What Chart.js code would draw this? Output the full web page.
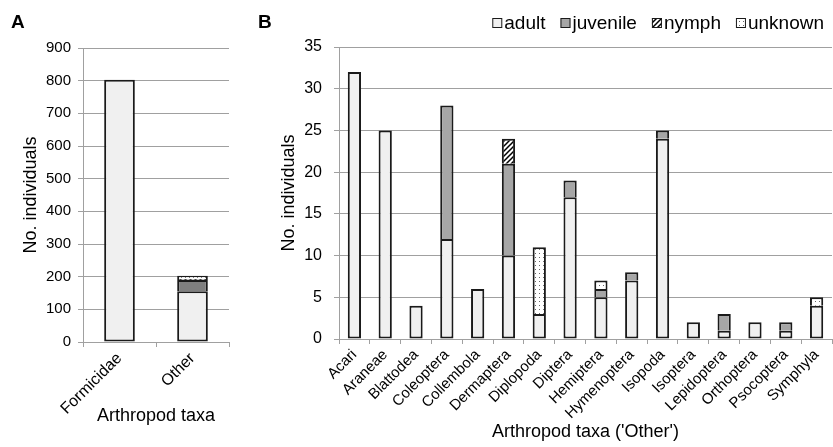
<!DOCTYPE html>
<html>
<head>
<meta charset="utf-8">
<script src="https://cdn.jsdelivr.net/npm/chart.js@4"></script>
<style>
  body { margin: 0; background: #fff; }
  #wrap { position: relative; width: 833px; height: 447px; font-family: "Liberation Sans", Arial, sans-serif; }
  canvas { position: absolute; top: 0; }
  .tag { position: absolute; font-weight: bold; font-size: 19px; color: #000; line-height: 1; }
</style>
</head>
<body>
<div id="wrap">
  <canvas id="chartA" width="250" height="447" style="left:0;width:250px;height:447px"></canvas>
  <canvas id="chartB" width="583" height="447" style="left:250px;width:583px;height:447px"></canvas>
  <div class="tag" style="left:11px;top:12px">A</div>
  <div class="tag" style="left:258px;top:12px">B</div>
</div>
<script>
// Panel A: all arthropods
var taxaA = ['Formicidae', 'Other'];
var adultA = [803, 155];
var juvenileA = [null, 35];
var nymphA = [null, 3];
var unknownA = [null, 10];

// Panel B: breakdown of 'Other'
var taxaB = ['Acari', 'Araneae', 'Blattodea', 'Coleoptera', 'Collembola', 'Dermaptera', 'Diplopoda', 'Diptera',
  'Hemiptera', 'Hymenoptera', 'Isopoda', 'Isoptera', 'Lepidoptera', 'Orthoptera', 'Psocoptera', 'Symphyla'];
var adultB = [32, 25, 4, 12, 6, 10, 3, 17, 5, 7, 24, 2, 1, 2, 1, 4];
var juvenileB = [null, null, null, 16, null, 11, null, 2, 1, 1, 1, null, 2, null, 1, null];
var nymphB = [null, null, null, null, null, 3, null, null, null, null, null, null, null, null, null, null];
var unknownB = [null, null, null, null, null, null, 8, null, 1, null, null, null, null, null, null, 1];

var FONT = '"Liberation Sans", Arial, sans-serif';

var hatchPattern = function() {
  var c = document.createElement('canvas');
  c.width = 5; c.height = 5;
  var g = c.getContext('2d');
  g.fillStyle = '#fff';
  g.fillRect(0, 0, 5, 5);
  g.strokeStyle = '#000';
  g.lineWidth = 1.5;
  g.beginPath();
  g.moveTo(-1, 6); g.lineTo(6, -1);
  g.moveTo(-1, 1); g.lineTo(1, -1);
  g.moveTo(4, 6); g.lineTo(6, 4);
  g.stroke();
  return g.createPattern(c, 'repeat');
}

var dotPattern = function() {
  var c = document.createElement('canvas');
  c.width = 4; c.height = 4;
  var g = c.getContext('2d');
  g.fillStyle = '#fff';
  g.fillRect(0, 0, 4, 4);
  g.fillStyle = '#666';
  g.fillRect(1, 1, 1, 1);
  return g.createPattern(c, 'repeat');
}

// the bottom segment keeps its full outline, upper segments skip their base edge
var makeSet = function(label, data, fill, barPct, first) {
  return {
    label: label,
    data: data,
    backgroundColor: fill,
    borderColor: '#1a1a1a',
    borderWidth: 2,
    borderSkipped: first ? false : 'start',
    barPercentage: barPct,
    categoryPercentage: 1
  };
}

// small box-and-text legend, right aligned, drawn above panel B
var boxLegend = {
  id: 'boxLegend',
  afterDraw: function(chart) {
    var ctx = chart.ctx;
    var sets = chart.data.datasets;
    ctx.save();
    ctx.font = '19px ' + FONT;
    ctx.textBaseline = 'middle';
    var box = 10, gapText = 2, gapItem = 15, y = 23;
    var widths = sets.map(function(ds) { return box + gapText + ctx.measureText(ds.label).width; });
    var total = widths.reduce(function(a, b) { return a + b; }, 0) + gapItem * (sets.length - 1);
    var x = chart.width - 9 - total;
    sets.forEach(function(ds, i) {
      ctx.fillStyle = ds.backgroundColor;
      ctx.fillRect(x, y - box / 2, box, box);
      ctx.strokeStyle = '#1a1a1a';
      ctx.lineWidth = 1;
      ctx.strokeRect(x + 0.5, y - box / 2 + 0.5, box - 1, box - 1);
      ctx.fillStyle = '#000';
      ctx.fillText(ds.label, x + box + gapText, y + 1);
      x += widths[i] + gapItem;
    });
    ctx.restore();
  }
};

var createPanelA = function(ctx) {
  return new Chart(ctx, {
    type: 'bar',
    data: {
      labels: taxaA,
      datasets: [
        makeSet('adult', adultA, '#f0f0f0', 0.42, true),
        makeSet('juvenile', juvenileA, '#7f7f7f', 0.42),
        makeSet('nymph', nymphA, hatchPattern(), 0.42),
        makeSet('unknown', unknownA, dotPattern(), 0.42)
      ]
    },
    options: {
      responsive: false,
      animation: false,
      layout: { padding: { top: 48, right: 21, bottom: 20, left: 20 } },
      plugins: { legend: { display: false }, tooltip: { enabled: false } },
      scales: {
        x: {
          stacked: true,
          afterFit: function(s) { s.height = 85; },
          grid: { offset: true, drawOnChartArea: false, color: '#a0a0a0', tickLength: 5 },
          border: { color: '#a0a0a0' },
          ticks: { color: '#000', minRotation: 45, maxRotation: 45, padding: 2, font: { family: FONT, size: 16 } },
          title: { display: true, text: 'Arthropod taxa', color: '#000', font: { family: FONT, size: 18 }, padding: { top: 0, bottom: 0 } }
        },
        y: {
          stacked: true,
          min: 0, max: 900,
          afterFit: function(s) { s.width = 63; },
          grid: { color: '#a0a0a0', tickLength: 5 },
          border: { color: '#a0a0a0' },
          ticks: { stepSize: 100, color: '#000', padding: 7, font: { family: FONT, size: 15 } },
          title: { display: true, text: 'No. individuals', color: '#000', font: { family: FONT, size: 18 }, padding: 0 }
        }
      }
    }
  });
}

var createPanelB = function(ctx) {
  return new Chart(ctx, {
    type: 'bar',
    data: {
      labels: taxaB,
      datasets: [
        makeSet('adult', adultB, '#f0f0f0', 0.43, true),
        makeSet('juvenile', juvenileB, '#a6a6a6', 0.43),
        makeSet('nymph', nymphB, hatchPattern(), 0.43),
        makeSet('unknown', unknownB, dotPattern(), 0.43)
      ]
    },
    options: {
      responsive: false,
      animation: false,
      layout: { padding: { top: 47, right: 1, bottom: 4, left: 28 } },
      plugins: { legend: { display: false }, tooltip: { enabled: false } },
      scales: {
        x: {
          stacked: true,
          afterFit: function(s) { s.height = 104; },
          grid: { offset: true, drawOnChartArea: false, color: '#a0a0a0', tickLength: 5 },
          border: { color: '#a0a0a0' },
          ticks: { color: '#000', minRotation: 45, maxRotation: 45, padding: 2, font: { family: FONT, size: 15 } },
          title: { display: true, text: "Arthropod taxa ('Other')", color: '#000', font: { family: FONT, size: 18 }, padding: { top: 0, bottom: 0 } }
        },
        y: {
          stacked: true,
          min: 0, max: 35,
          afterFit: function(s) { s.width = 61; },
          grid: { color: '#a0a0a0', tickLength: 5 },
          border: { color: '#a0a0a0' },
          ticks: { stepSize: 5, color: '#000', padding: 12, font: { family: FONT, size: 16 } },
          title: { display: true, text: 'No. individuals', color: '#000', font: { family: FONT, size: 18 }, padding: 0 }
        }
      }
    },
    plugins: [boxLegend]
  });
}

createPanelA(document.getElementById('chartA').getContext('2d'));
createPanelB(document.getElementById('chartB').getContext('2d'));
</script>
</body>
</html>
